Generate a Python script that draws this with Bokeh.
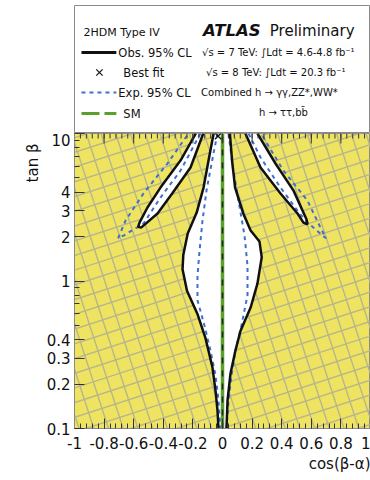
import math
from bokeh.plotting import figure
from bokeh.layouts import column
from bokeh.models import Range1d, FixedTicker, Title
from bokeh.core.properties import value
from bokeh.embed import file_html
from bokeh.resources import INLINE

# ---------------- data ----------------
x_ticks = [-1, -0.8, -0.6, -0.4, -0.2, 0, 0.2, 0.4, 0.6, 0.8, 1]
x_tick_labels = ["-1", "-0.8", "-0.6", "-0.4", "-0.2", "0", "0.2", "0.4", "0.6", "0.8", "1"]
y_ticks = [0.1, 0.2, 0.3, 0.4, 1, 2, 3, 4, 10]
y_tick_labels = ["0.1", "0.2", "0.3", "0.4", "1", "2", "3", "4", "10"]
y_minor = [0.5, 0.6, 0.7, 0.8, 0.9, 5, 6, 7, 8, 9]

# observed 95% CL, central lobe
obs_c_left_x = [-0.06, -0.095, -0.128, -0.175, -0.235, -0.265, -0.27, -0.24, -0.17, -0.115, -0.068, -0.047, -0.034, -0.027]
obs_c_left_t = [10, 6.5, 4.3, 2.9, 2.1, 1.5, 1.2, 0.86, 0.6, 0.41, 0.26, 0.18, 0.133, 0.1]
obs_c_right_x = [0.05, 0.065, 0.085, 0.14, 0.19, 0.25, 0.265, 0.236, 0.19, 0.122, 0.088, 0.054, 0.034, 0.027]
obs_c_right_t = [10, 6.5, 4.3, 2.87, 2.2, 1.85, 1.45, 0.96, 0.66, 0.46, 0.34, 0.236, 0.155, 0.1]

# observed 95% CL, side lobes (top -> tip -> top)
obs_l_x = [-0.18, -0.284, -0.419, -0.507, -0.56, -0.57, -0.55, -0.439, -0.34, -0.216, -0.13]
obs_l_t = [10, 6.55, 4.3, 3.15, 2.5, 2.33, 2.3, 2.87, 3.92, 5.88, 10]
obs_r_x = [0.155, 0.257, 0.392, 0.507, 0.547, 0.574, 0.568, 0.48, 0.358, 0.236]
obs_r_t = [10, 5.88, 3.92, 2.87, 2.49, 2.42, 2.61, 4.1, 6.26, 10]

# expected 95% CL
exp_c_left_x = [-0.034, -0.061, -0.108, -0.135, -0.155, -0.169, -0.169, -0.122, -0.081, -0.047, -0.027, -0.014]
exp_c_left_t = [10, 7.32, 4.11, 2.57, 1.61, 1.09, 0.74, 0.50, 0.338, 0.229, 0.155, 0.1]
exp_c_right_x = [0.041, 0.068, 0.108, 0.149, 0.169, 0.169, 0.128, 0.088, 0.061, 0.041, 0.027]
exp_c_right_t = [10, 6.07, 3.51, 2.03, 1.27, 0.80, 0.50, 0.338, 0.229, 0.155, 0.1]
exp_l_x = [-0.149, -0.284, -0.419, -0.534, -0.669, -0.705, -0.655, -0.534, -0.372, -0.23]
exp_l_t = [10, 5.6, 3.68, 2.45, 2.03, 1.95, 2.57, 3.92, 6.26, 10]
exp_r_x = [0.176, 0.257, 0.392, 0.507, 0.561, 0.676, 0.70, 0.662, 0.574, 0.412, 0.26]
exp_r_t = [10, 6.87, 4.3, 3.0, 2.57, 2.03, 1.95, 2.3, 3.51, 5.6, 10]

best_fit_x = [-0.03]
best_fit_t = [9.6]
sm_x = [0, 0]
sm_t = [0.1, 10]

# ---------------- styles ----------------
YELLOW = "#eee462"
HATCH = "#b8b58c"
BLUE = "#3f6fcf"
GREEN = "#5aa02c"
FONT = "DejaVu Sans"
FRAME_W, FRAME_H = 296.0, 295.0

# ---------------- main plot ----------------
p = figure(width=370, height=347, x_range=Range1d(-1, 1), y_range=Range1d(0.1, 10),
           y_axis_type="log", output_backend="svg", toolbar_location=None,
           min_border_left=74, min_border_right=0, min_border_top=0, min_border_bottom=52)
p.background_fill_color = YELLOW
p.border_fill_color = "white"
p.outline_line_color = "#8a8a8a"
p.grid.visible = False

# rotated cross-hatch of the excluded region (straight lines in screen space)
px_x = FRAME_W / 2.0      # pixels per unit of cos(beta-alpha)
px_dec = FRAME_H / 2.0    # pixels per decade of tan(beta)
theta = math.radians(18)
sp = 14.0
xs, ys = [], []
for dvec, nvec in [((math.cos(theta), math.sin(theta)), (-math.sin(theta), math.cos(theta))),
                   ((-math.sin(theta), math.cos(theta)), (math.cos(theta), math.sin(theta)))]:
    for k in range(-30, 31):
        ox, oy = k * sp * nvec[0], k * sp * nvec[1]
        X = [ox - 400 * dvec[0], ox + 400 * dvec[0]]
        Y = [oy - 400 * dvec[1], oy + 400 * dvec[1]]
        xs.append([v / px_x for v in X])
        ys.append([10 ** (v / px_dec) for v in Y])
p.multi_line(xs, ys, line_color=HATCH, line_width=1.4)

# allowed (white) regions
p.patch(obs_c_left_x + obs_c_right_x[::-1], obs_c_left_t + obs_c_right_t[::-1],
        fill_color="white", line_color=None)
p.patch(obs_l_x, obs_l_t, fill_color="white", line_color=None)
p.patch(obs_r_x, obs_r_t, fill_color="white", line_color=None)

# SM
p.line(sm_x, sm_t, line_color=GREEN, line_width=3.5)
p.line(sm_x, sm_t, line_color="#222222", line_width=1.5, line_dash="6 7")

# expected
for ex, et in [(exp_c_left_x, exp_c_left_t), (exp_c_right_x, exp_c_right_t),
               (exp_l_x, exp_l_t), (exp_r_x, exp_r_t)]:
    p.line(ex, et, line_color=BLUE, line_width=2, line_dash="4 4")

# observed
for ox_, ot_ in [(obs_c_left_x, obs_c_left_t), (obs_c_right_x, obs_c_right_t),
                 (obs_l_x, obs_l_t), (obs_r_x, obs_r_t)]:
    p.line(ox_, ot_, line_color="#111111", line_width=2.5)

p.scatter(best_fit_x, best_fit_t, marker="x", size=9, line_color="#111111", line_width=1.3)

# axes
x_minor = [round(-1 + 0.04 * i, 2) for i in range(51)]
xa = p.xaxis[0]
xa.ticker = FixedTicker(ticks=x_ticks, minor_ticks=x_minor)
xa.major_label_overrides = dict(zip(x_ticks, x_tick_labels))
ya = p.yaxis[0]
ya.ticker = FixedTicker(ticks=y_ticks, minor_ticks=y_minor)
ya.major_label_overrides = dict(zip(y_ticks, y_tick_labels))
for ax in (xa, ya):
    ax.major_tick_in = 10
    ax.major_tick_out = 0
    ax.minor_tick_in = 5
    ax.minor_tick_out = 0
    ax.axis_line_color = "#8a8a8a"
    ax.major_tick_line_color = "#333333"
    ax.minor_tick_line_color = "#333333"
    ax.major_label_text_font = FONT
    ax.major_label_text_font_size = "15px"
    ax.major_label_text_color = "#111111"
xa.major_label_standoff = 8
ya.major_label_standoff = 4

# inward ticks along the top edge of the frame (tan beta = 10)
top_t = 10.0
p.segment(x0=x_ticks, y0=[top_t] * len(x_ticks), x1=x_ticks,
          y1=[top_t * 10 ** (-10 / px_dec)] * len(x_ticks), line_color="#333333", line_width=1)
p.segment(x0=x_minor, y0=[top_t] * len(x_minor), x1=x_minor,
          y1=[top_t * 10 ** (-5 / px_dec)] * len(x_minor), line_color="#333333", line_width=1)

# axis titles (ROOT style: at the end of the axes)
p.add_layout(Title(text="tan β", align="right", offset=10, standoff=4,
                   text_font=FONT, text_font_size="15px", text_font_style="normal",
                   text_color="#111111"), "left")
p.add_layout(Title(text="cos(β-α)", align="right", standoff=2,
                   text_font=FONT, text_font_size="15px", text_font_style="normal",
                   text_color="#111111"), "below")

# ---------------- legend panel ----------------
lf = figure(width=370, height=133, x_range=Range1d(73, 370), y_range=Range1d(133, 5),
            output_backend="svg", toolbar_location=None,
            min_border_left=73, min_border_right=0, min_border_top=5, min_border_bottom=0,
            x_axis_location=None, y_axis_location=None)
lf.grid.visible = False
lf.outline_line_color = "#8a8a8a"
lf.background_fill_color = "white"
lf.border_fill_color = "white"

lf.text(x=[82], y=[32], text=["2HDM Type IV"], text_font=value(FONT), text_font_size="11px",
        text_baseline="middle", text_color="#111111")
lf.text(x=[117, 122, 117, 122], y=[52, 72, 92, 113],
        text=["Obs. 95% CL", "Best fit", "Exp. 95% CL", "SM"],
        text_font=value(FONT), text_font_size="11.5px", text_baseline="middle", text_color="#111111")
lf.line([80, 115], [52, 52], line_color="#111111", line_width=3)
lf.scatter([98], [72], marker="x", size=9, line_color="#111111", line_width=1.2)
lf.line([80, 115], [92, 92], line_color=BLUE, line_width=2, line_dash="4 4")
lf.line([80, 115], [113, 113], line_color=GREEN, line_width=3, line_dash="18 5")

lf.text(x=[202], y=[30], text=["ATLAS"], text_font=value(FONT), text_font_size="16.5px",
        text_font_style="bold italic", text_baseline="middle", text_color="#111111")
lf.text(x=[269], y=[30], text=["Preliminary"], text_font=value(FONT), text_font_size="15px",
        text_baseline="middle", text_color="#111111")
lf.text(x=[201, 205, 200], y=[52, 72, 92],
        text=["√s = 7 TeV: ∫Ldt = 4.6-4.8 fb⁻¹", "√s = 8 TeV: ∫Ldt = 20.3 fb⁻¹",
              "Combined h → γγ,ZZ*,WW*"],
        text_font=value(FONT), text_font_size="10px", text_baseline="middle", text_color="#111111")
lf.text(x=[258], y=[112], text=["h → ττ,bb\u0304"], text_font=value(FONT), text_font_size="10px",
        text_baseline="middle", text_color="#111111")

layout = column(lf, p, spacing=0)
open("out.html", "w").write(file_html(layout, INLINE))
